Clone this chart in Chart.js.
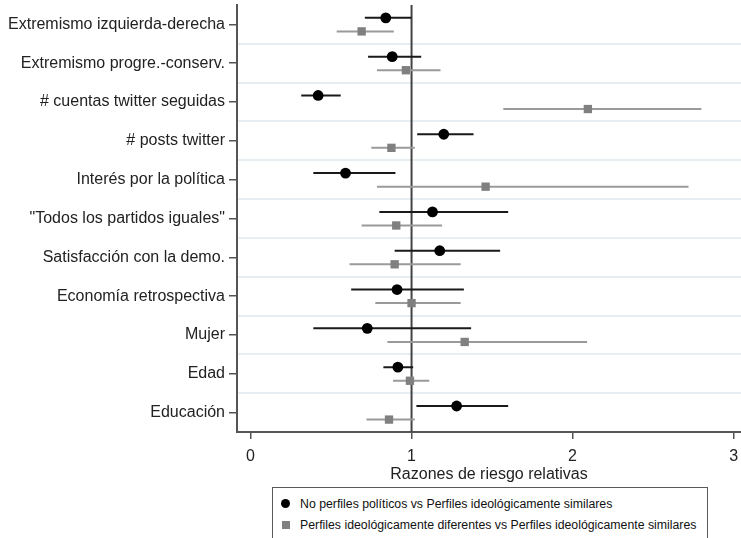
<!DOCTYPE html>
<html>
<head>
<meta charset="utf-8">
<script src="https://cdn.jsdelivr.net/npm/chart.js@4"></script>
<style>
  body { margin: 0; background: #fff; font-family: "Liberation Sans", Arial, sans-serif; }
  #wrap { position: relative; width: 741px; height: 538px; overflow: hidden; }
  #box { position: absolute; left: 0; top: 0; width: 741px; height: 484px; }
  #legend {
    position: absolute; left: 272px; top: 487px; width: 436px; height: 53px;
    border: 1px solid #5a5a5a; box-sizing: border-box; font-size: 12.3px; color: #111;
  }
  .item { position: absolute; left: 0; height: 14px; line-height: 14px; white-space: nowrap; }
  .item span.txt { position: absolute; left: 27px; top: 0; }
  .dot { position: absolute; left: 8px; top: 2px; width: 9px; height: 9px; border-radius: 50%; background: #000; }
  .sq { position: absolute; left: 9px; top: 3px; width: 8px; height: 8px; background: #808080; }
</style>
</head>
<body>
<div id="wrap">
  <div id="box"><canvas id="coef"></canvas></div>
  <div id="legend">
    <div class="item" style="top:9px"><div class="dot"></div><span class="txt">No perfiles políticos vs Perfiles ideológicamente similares</span></div>
    <div class="item" style="top:30px"><div class="sq"></div><span class="txt">Perfiles ideológicamente diferentes vs Perfiles ideológicamente similares</span></div>
  </div>
</div>
<script>
// variables (de arriba a abajo)
const labels = [
  "Extremismo izquierda-derecha",
  "Extremismo progre.-conserv.",
  "# cuentas twitter seguidas",
  "# posts twitter",
  "Interés por la política",
  "\"Todos los partidos iguales\"",
  "Satisfacción con la demo.",
  "Economía retrospectiva",
  "Mujer",
  "Edad",
  "Educación"
];

// No perfiles políticos vs Perfiles ideológicamente similares
const blackEst = [0.84, 0.88, 0.42, 1.20, 0.59, 1.13, 1.175, 0.91, 0.725, 0.915, 1.28];
const blackLo  = [0.71, 0.73, 0.315, 1.035, 0.39, 0.80, 0.895, 0.625, 0.39, 0.825, 1.03];
const blackHi  = [1.00, 1.06, 0.56, 1.385, 0.90, 1.60, 1.55, 1.325, 1.37, 1.01, 1.60];

// Perfiles ideológicamente diferentes vs Perfiles ideológicamente similares
const grayEst = [0.69, 0.965, 2.095, 0.875, 1.46, 0.905, 0.895, 1.00, 1.33, 0.99, 0.86];
const grayLo  = [0.535, 0.785, 1.57, 0.75, 0.785, 0.69, 0.615, 0.775, 0.85, 0.885, 0.72];
const grayHi  = [0.89, 1.18, 2.80, 1.02, 2.72, 1.19, 1.305, 1.305, 2.09, 1.11, 1.02];

const xTicks = [0, 1, 2, 3];
const refLine = 1;

const FONT = "'Liberation Sans', Arial, sans-serif";
const offBlack = -0.17, offGray = 0.18;

// intervalos: pares de puntos separados por un hueco (null)
function ciData(lo, hi, off) {
  const out = [];
  lo.forEach((v, i) => {
    out.push({ x: v, y: i + off }, { x: hi[i], y: i + off }, { x: null, y: null });
  });
  return out;
}
function ptData(est, off) {
  return est.map((v, i) => ({ x: v, y: i + off }));
}

new Chart(document.getElementById("coef"), {
  type: "scatter",
  data: {
    datasets: [
      {
        label: "black",
        data: ptData(blackEst, offBlack),
        pointStyle: "circle",
        pointRadius: 5.4,
        pointHoverRadius: 5.4,
        backgroundColor: "#000",
        borderColor: "#000",
        borderWidth: 0,
        order: 0,
      },
      {
        label: "gray",
        data: ptData(grayEst, offGray),
        pointStyle: "rect",
        pointRadius: 5.9,
        pointHoverRadius: 5.9,
        backgroundColor: "#808080",
        borderColor: "#808080",
        borderWidth: 0,
        order: 0,
      },
      {
        label: "ci black",
        data: ciData(blackLo, blackHi, offBlack),
        showLine: true,
        spanGaps: false,
        pointRadius: 0,
        borderColor: "#1a1a1a",
        borderWidth: 2,
        order: 1,
      },
      {
        label: "ci gray",
        data: ciData(grayLo, grayHi, offGray),
        showLine: true,
        spanGaps: false,
        pointRadius: 0,
        borderColor: "#9a9a9a",
        borderWidth: 2,
        order: 1,
      },
      {
        label: "ref",
        data: [{ x: refLine, y: -0.5 }, { x: refLine, y: 10.5 }],
        showLine: true,
        pointRadius: 0,
        borderColor: "#444",
        borderWidth: 2,
        order: 3,
      },
    ],
  },
  options: {
    responsive: true,
    maintainAspectRatio: false,
    animation: false,
    layout: { autoPadding: false, padding: { top: 5, right: 0, left: 0, bottom: 0 } },
    plugins: { legend: { display: false }, tooltip: { enabled: false } },
    scales: {
      x: {
        type: "linear",
        min: -0.084,
        max: 3.046,
        afterBuildTicks: (s) => { s.ticks = xTicks.map((v) => ({ value: v })); },
        afterFit: (s) => { s.height = 52; s.paddingLeft = 0; s.paddingRight = 0; },
        grid: { drawOnChartArea: false, drawTicks: true, tickLength: 7, color: "#555", lineWidth: 1.5 },
        border: { color: "#555", width: 2 },
        ticks: { color: "#222", font: { family: FONT, size: 16 }, padding: 8 },
        title: { display: true, text: "Razones de riesgo relativas", color: "#222", font: { family: FONT, size: 16 }, padding: 0 },
      },
      y: {
        type: "linear",
        min: -0.5,
        max: 10.5,
        reverse: true,
        afterBuildTicks: (s) => { s.ticks = labels.map((_, i) => ({ value: i })); },
        afterFit: (s) => { s.width = 237; s.paddingTop = 0; s.paddingBottom = 0; },
        grid: { drawOnChartArea: false, drawTicks: true, tickLength: 8, color: "#555", lineWidth: 1.5 },
        border: { color: "#555", width: 2 },
        ticks: {
          color: "#222",
          font: { family: FONT, size: 16 },
          padding: 4,
          callback: (v) => labels[v],
        },
      },
      yg: {
        type: "linear",
        position: "left",
        min: -0.5,
        max: 10.5,
        reverse: true,
        afterBuildTicks: (s) => {
          s.ticks = labels.slice(1).map((_, i) => ({ value: i + 0.5 }));
        },
        afterFit: (s) => { s.width = 0; s.paddingTop = 0; s.paddingBottom = 0; },
        grid: { drawOnChartArea: true, drawTicks: false, color: "#e6eef1", lineWidth: 2 },
        border: { display: false },
        ticks: { display: false },
      },
    },
  },
});
</script>
</body>
</html>
